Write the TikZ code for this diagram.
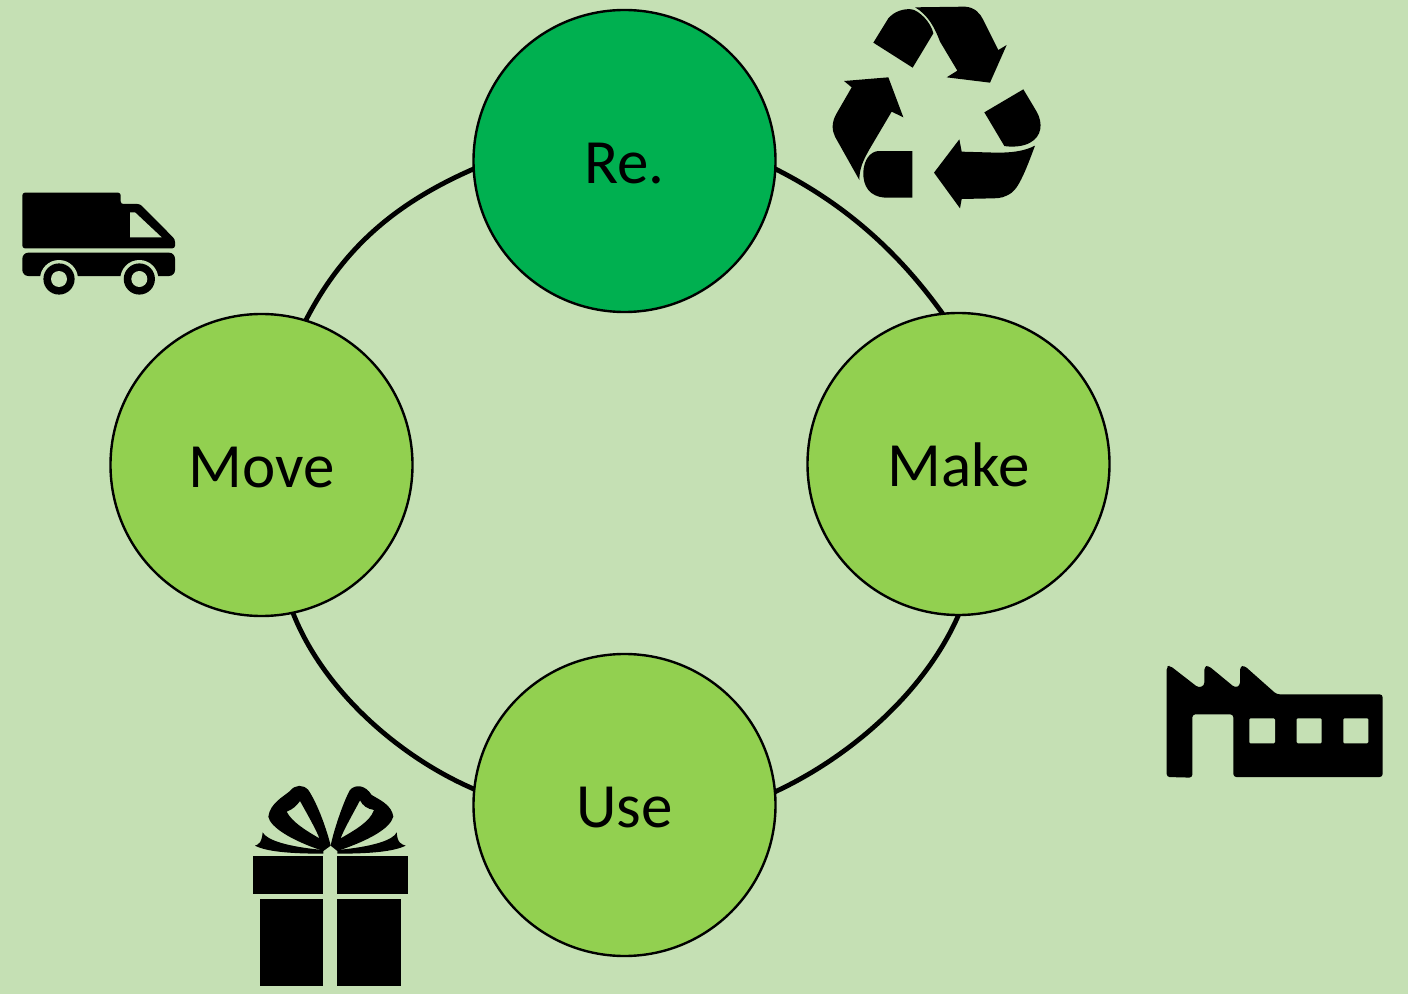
\documentclass[tikz,border=0pt]{standalone}
\usepackage{fontspec}
\setmainfont{Carlito}
\definecolor{bgc}{HTML}{C5E0B4}
\definecolor{darkg}{HTML}{00B050}
\definecolor{lightg}{HTML}{92D050}
\tikzset{
  stage/.style={circle,draw=black,line width=1.2pt,minimum size=151pt,inner sep=0pt,outer sep=0pt,text height=22.5pt,text depth=0pt,font=\fontsize{31.5}{36}\selectfont},
  ring/.style={line width=2.4pt,black},
  icon/.style={fill=black,draw=none},
  hole/.style={fill=bgc,draw=none}
}
\begin{document}
\begin{tikzpicture}[x=0.5pt,y=-0.5pt]
\useasboundingbox (0,0) rectangle (1408,994);
\fill[bgc] (0,0) rectangle (1408,994);
\node[stage,fill=darkg] (re) at (624.5,161) {Re.};
\node[stage,fill=lightg] (make) at (958.5,464) {Make};
\node[stage,fill=lightg] (move) at (261.5,465) {Move};
\node[stage,fill=lightg] (use) at (624.5,805) {Use};
\draw[ring] (re.-3.4) .. controls (843,203) and (897,250) .. (make.96);
\draw[ring] (make.-90) .. controls (925,692) and (850,757) .. (use.5.7);
\draw[ring] (use.174.3) .. controls (399,757) and (323,690) .. (move.-78.9);
\draw[ring] (move.73.7) .. controls (344,246) and (398,202) .. (re.183.4);
% recycle
\begin{scope}[shift={(820,0)},x=0.16667pt,y=-0.16667pt]
\fill[icon] (160,128) -- (205,55) .. controls (222,35) and (250,25) .. (275,28) .. controls (297,32) and (332,65) .. (340,100) -- (278,203) -- cycle;
\fill[icon] (285,22) -- (435,20) .. controls (465,22) and (480,40) .. (490,60) -- (535,150) -- (560,135) -- (510,248) -- (380,232) -- (412,212) -- (360,125) .. controls (345,85) and (325,45) .. (285,22) -- cycle;
\fill[icon] (493,337) -- (610,268) -- (650,335) .. controls (670,370) and (665,410) .. (630,428) .. controls (610,440) and (575,442) .. (553,438) -- cycle;
\fill[icon] (645,437) .. controls (625,490) and (600,560) .. (575,578) .. controls (555,592) and (540,595) .. (520,595) -- (425,597) -- (420,625) -- (342,518) -- (418,418) -- (425,455) -- (530,458) .. controls (570,458) and (610,455) .. (645,437) -- cycle;
\fill[icon] (277,453) -- (277,593) -- (195,593) .. controls (150,590) and (128,560) .. (130,515) .. controls (132,480) and (150,455) .. (175,453) -- cycle;
\fill[icon] (118,540) -- (45,410) .. controls (35,390) and (35,365) .. (50,340) -- (95,262) -- (72,243) -- (205,232) -- (250,352) -- (215,335) -- (150,445) .. controls (130,480) and (118,505) .. (118,540) -- cycle;
\end{scope}
% truck
\begin{scope}[shift={(10,180)},x=0.16667pt,y=-0.16667pt]
\fill[icon,rounded corners=1.3pt] (37,205) -- (37,38) -- (332,38) -- (332,72) -- (390,72) -- (495,178) -- (495,205) -- cycle;
\fill[hole] (360,97) -- (375,97) -- (455,172) -- (360,172) -- cycle;
\fill[icon,rounded corners=3pt] (37,218) -- (495,218) -- (495,288) -- (37,288) -- cycle;
\fill[hole] (147,297) circle[radius=9.5pt];
\fill[hole] (388,297) circle[radius=9.5pt];
\fill[icon] (147,297) circle[radius=7.8pt];
\fill[icon] (388,297) circle[radius=7.8pt];
\fill[hole] (147,297) circle[radius=4pt];
\fill[hole] (388,297) circle[radius=4pt];
\end{scope}
% factory
\begin{scope}[shift={(1155,655)},x=0.16667pt,y=-0.16667pt]
\fill[icon,rounded corners=1.5pt] (35,366) -- (35,35) -- (45,32) -- (130,98) -- (148,92) -- (148,35) -- (160,32) -- (240,98) -- (255,92) -- (255,35) -- (268,32) -- (365,118) -- (683,118) -- (683,366) -- (235,366) -- (235,178) -- (112,178) -- (112,368) -- cycle;
\fill[hole,rounded corners=0.6pt] (283,190) rectangle (360,265);
\fill[hole,rounded corners=0.6pt] (425,190) rectangle (500,265);
\fill[hole,rounded corners=0.6pt] (565,190) rectangle (640,265);
\end{scope}
% gift
\begin{scope}[shift={(240,775)},x=0.16667pt,y=-0.16667pt]
\fill[icon] (38,243) rectangle (248,357);
\fill[icon] (291,243) rectangle (503,357);
\fill[icon] (60,372) rectangle (248,632);
\fill[icon] (292,372) rectangle (484,632);
\fill[icon,even odd rule] (272,212) .. controls (262,170) and (235,90) .. (205,45) .. controls (190,28) and (165,28) .. (150,48) .. controls (130,65) and (90,85) .. (85,125) .. controls (90,155) and (150,195) .. (250,228) -- cycle
  (140,110) .. controls (160,102) and (170,92) .. (180,78) .. controls (195,105) and (232,170) .. (238,190) .. controls (195,165) and (155,140) .. (140,110) -- cycle;
\fill[icon,even odd rule] (272,212) .. controls (280,170) and (310,80) .. (330,45) .. controls (345,28) and (375,28) .. (395,60) .. controls (420,75) and (455,90) .. (460,125) .. controls (450,160) and (390,195) .. (292,228) -- cycle
  (402,105) .. controls (382,102) and (368,92) .. (360,76) .. controls (345,105) and (308,170) .. (302,190) .. controls (345,165) and (390,140) .. (402,105) -- cycle;
\fill[icon] (45,212) .. controls (55,208) and (65,205) .. (68,172) .. controls (80,195) and (140,215) .. (250,225) -- (250,236) .. controls (150,236) and (80,230) .. (45,212) -- cycle;
\fill[icon] (497,212) .. controls (485,208) and (472,205) .. (470,172) .. controls (460,195) and (400,215) .. (292,225) -- (292,236) .. controls (390,236) and (460,230) .. (497,212) -- cycle;
\end{scope}
\end{tikzpicture}
\end{document}
